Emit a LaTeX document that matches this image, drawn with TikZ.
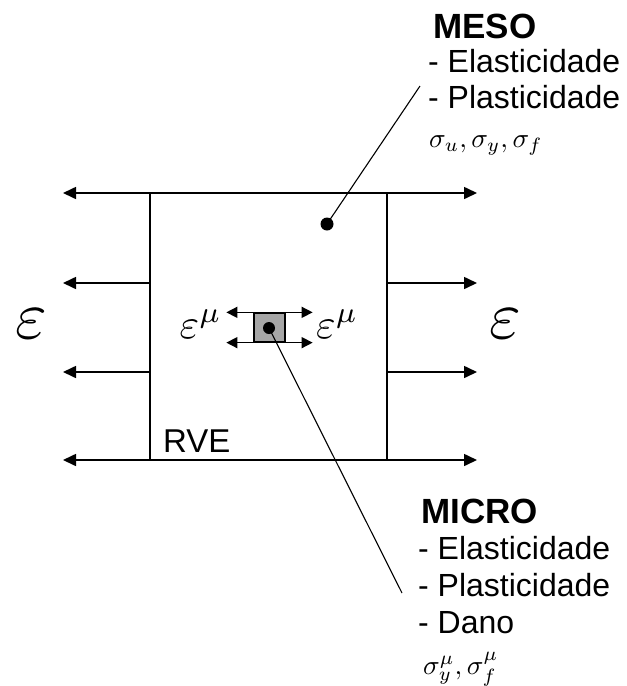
\documentclass[tikz,border=0pt]{standalone}
\usepackage{fontspec}
\setmainfont{Liberation Sans}
\usetikzlibrary{arrows.meta}
\begin{document}
\begin{tikzpicture}[x=1pt,y=-1pt,
  arr/.style={line width=1.6pt,-{Triangle[length=13pt,width=12pt]}},
  darr/.style={line width=1.6pt,{Triangle[length=13pt,width=12pt]}-{Triangle[length=13pt,width=12pt]}},
  sarr/.style={line width=1.4pt,-{Triangle[length=11pt,width=11pt]}},
  frame/.style={line width=1.6pt},
  lbl/.style={inner sep=0pt,anchor=base west,font=\fontsize{32}{36}\selectfont},
  ttl/.style={inner sep=0pt,anchor=base west,font=\fontsize{35}{40}\selectfont\bfseries},
  sig/.style={inner sep=0pt,anchor=base west},
  dotnode/.style={circle,fill=black,inner sep=0pt,minimum size=13pt},
  leader/.style={line width=1.1pt}]
\useasboundingbox (0,0) rectangle (627,686);

% frame corners
\coordinate (tl) at (150,193);
\coordinate (bl) at (150,460);
\coordinate (tr) at (387,193);
\coordinate (br) at (387,460);
\coordinate (ml1) at (150,283);
\coordinate (ml2) at (150,372);
\coordinate (mr1) at (387,283);
\coordinate (mr2) at (387,372);

\draw[frame] (tl) -- (bl);
\draw[frame] (tr) -- (br);
\draw[darr] (63,193) coordinate (tlt) -- (477,193) coordinate (trt);
\draw[darr] (63,460) coordinate (blt) -- (477,460) coordinate (brt);
\draw[arr] (ml1) -- (63,283);
\draw[arr] (ml2) -- (63,372);
\draw[arr] (mr1) -- (477,283);
\draw[arr] (mr2) -- (477,372);

% big strains
\node[inner sep=0pt] (epsL) at (31,324) {\scalebox{6.8}{$\varepsilon$}};
\node[inner sep=0pt] (epsR) at (505,324) {\scalebox{6.8}{$\varepsilon$}};

% micro cell
\node[draw,fill=gray!70,line width=1.3pt,minimum width=31pt,minimum height=29pt,inner sep=0pt] (sq) at (269.5,327.5) {};
\node[dotnode,minimum size=12pt] (mdot) at (269,328) {};
\draw[sarr] (sq.north west) -- ++(-27,0);
\draw[sarr] (sq.south west) -- ++(-27,0);
\draw[sarr] (sq.north east) -- ++(27,0);
\draw[sarr] (sq.south east) -- ++(27,0);
\node[inner sep=0pt,anchor=base east] (emuL) at (222,338) {\scalebox{4.2}{$\varepsilon^{\mu}$}};
\node[inner sep=0pt,anchor=base west] (emuR) at (316,338) {\scalebox{4.2}{$\varepsilon^{\mu}$}};

% RVE label
\node[inner sep=0pt,anchor=base west,font=\fontsize{33}{36}\selectfont] (rve) at (163,452) {RVE};

% MESO
\node[dotnode] (odot) at (327,224) {};
\coordinate (mesoend) at (420,86);
\draw[leader] (odot.center) -- (mesoend);
\node[ttl] (meso) at (433,38) {MESO};
\node[lbl] (meso1) at (428,72) {- Elasticidade};
\node[lbl] (meso2) at (428,108) {- Plasticidade};
\node[sig] (meso3) at (429,147) {\scalebox{2.75}{$\sigma_u, \sigma_y, \sigma_f$}};

% MICRO
\coordinate (microend) at (402,593);
\draw[leader] (mdot.center) -- (microend);
\node[ttl] (micro) at (421,523) {MICRO};
\node[lbl] (micro1) at (418,559) {- Elasticidade};
\node[lbl] (micro2) at (418,596) {- Plasticidade};
\node[lbl] (micro3) at (418,633) {- Dano};
\node[sig] (micro4) at (423,674) {\scalebox{2.75}{$\sigma^{\mu}_y, \sigma^{\mu}_f$}};
\end{tikzpicture}
\end{document}
